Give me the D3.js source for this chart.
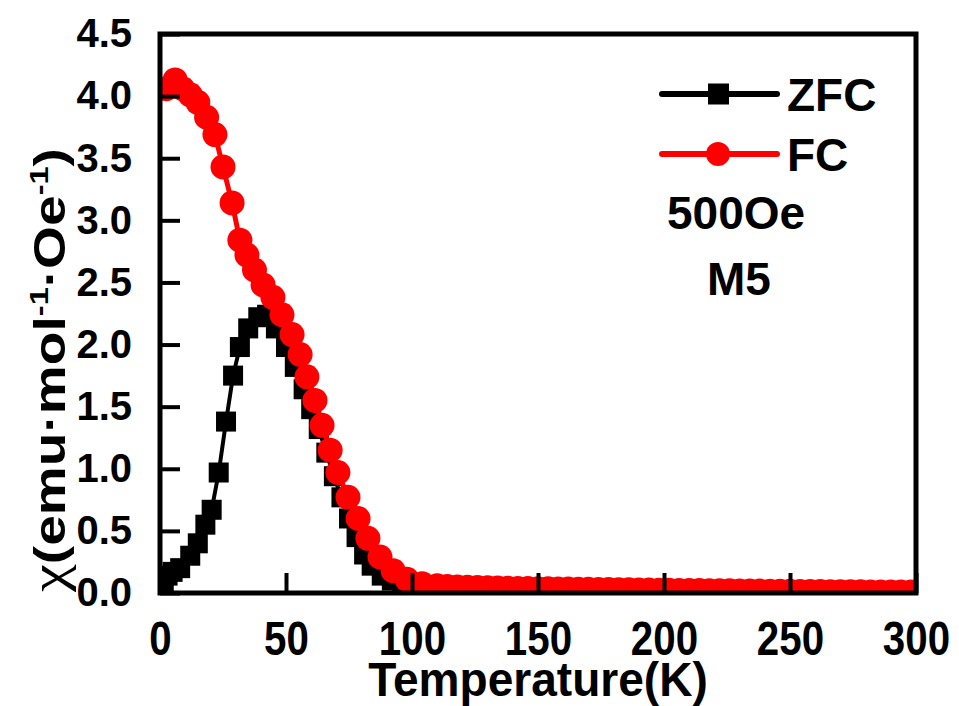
<html>
<head>
<style>
  body { margin: 0; background: #fff; }
  svg { display: block; }
  text { font-family: "Liberation Sans", Arial, Helvetica, sans-serif; font-weight: bold; fill: #000; }
</style>
<script src="https://cdn.jsdelivr.net/npm/d3@7"></script>
</head>
<body>
<svg id="chart"></svg>
<script>
// ZFC data (black squares)
let zfcT = [1.5, 3, 5, 8, 12, 15, 18, 20.5, 23.3, 26.2, 29, 31.7, 35, 39, 42.5, 46, 50, 53.5, 57, 60, 63, 66, 69, 72, 75, 78, 81, 84, 88, 92, 96, 100,
  106, 112, 120, 130, 140, 150, 160, 170, 180, 190, 200, 210, 220, 230, 240, 250, 260, 270, 280, 290, 298]
let zfcChi = [0.08, 0.14, 0.17, 0.2, 0.3, 0.4, 0.55, 0.67, 0.97, 1.38, 1.75, 1.98, 2.13, 2.22, 2.24, 2.13, 1.98, 1.82, 1.64, 1.48, 1.32, 1.13, 0.94, 0.77, 0.6, 0.45, 0.31, 0.22, 0.14, 0.1, 0.08, 0.06,
  0.05, 0.045, 0.04, 0.037, 0.034, 0.032, 0.03, 0.028, 0.026, 0.024, 0.022, 0.02, 0.018, 0.016, 0.014, 0.013, 0.012, 0.011, 0.01, 0.009, 0.008]

// FC data (red circles)
let fcT = [2.5, 6, 9, 12, 15, 18.5, 21.8, 25, 28.6, 31.7, 34.5, 37.5, 40.9, 44.8, 48.4, 52.4, 55.6, 58.3, 61.5, 64.3, 67.5, 70.6, 74.6, 78.6, 82.5, 87.3, 92.5, 98, 104, 110,
  114, 118, 122, 126, 130, 134, 138, 142, 146, 150, 154, 158, 162, 166, 170, 174, 178, 182, 186, 190, 194, 198, 202, 206, 210, 214, 218, 222, 226, 230,
  234, 238, 242, 246, 250, 254, 258, 262, 266, 270, 274, 278, 282, 286, 290, 294, 298]
let fcChi = [4.06, 4.13, 4.06, 4.01, 3.95, 3.83, 3.69, 3.43, 3.14, 2.84, 2.72, 2.6, 2.48, 2.38, 2.24, 2.08, 1.92, 1.74, 1.55, 1.35, 1.15, 0.97, 0.77, 0.6, 0.44, 0.29, 0.18, 0.11, 0.075, 0.058,
  0.052, 0.049, 0.046, 0.044, 0.042, 0.04, 0.039, 0.037, 0.036, 0.035, 0.034, 0.033, 0.032, 0.031, 0.03, 0.029, 0.028, 0.027, 0.026, 0.025, 0.024, 0.023, 0.022, 0.021, 0.021, 0.02, 0.019, 0.018, 0.018, 0.017,
  0.016, 0.016, 0.015, 0.014, 0.014, 0.013, 0.012, 0.012, 0.011, 0.011, 0.01, 0.01, 0.009, 0.009, 0.008, 0.008, 0.008]

let xTicks = [0, 50, 100, 150, 200, 250, 300]
let yTicks = [0, 0.5, 1, 1.5, 2, 2.5, 3, 3.5, 4, 4.5]

let width = 959, height = 706
let margin = { top: 34, bottom: 113, left: 160, right: 43 }
let bodyWidth = width - margin.left - margin.right
let bodyHeight = height - margin.top - margin.bottom

let svg = d3.select("#chart").attr("width", width).attr("height", height)

let xScale = d3.scaleLinear().domain([0, 300]).range([margin.left, margin.left + bodyWidth])
let yScale = d3.scaleLinear().domain([0, 4.5]).range([margin.top + bodyHeight, margin.top])

svg.append("clipPath").attr("id", "plotClip")
  .append("rect")
  .attr("x", margin.left).attr("y", margin.top)
  .attr("width", bodyWidth).attr("height", bodyHeight)

let plot = svg.append("g").attr("clip-path", "url(#plotClip)")

let zfc = zfcT.map((t, i) => ({ t: t, v: zfcChi[i] }))
let fc = fcT.map((t, i) => ({ t: t, v: fcChi[i] }))

let line = d3.line().x(d => xScale(d.t)).y(d => yScale(d.v))

// ZFC
plot.append("path").datum(zfc)
  .attr("d", line).attr("fill", "none").attr("stroke", "#000").attr("stroke-width", 4)
plot.selectAll(".sq").data(zfc).enter().append("rect")
  .attr("x", d => xScale(d.t) - 10).attr("y", d => yScale(d.v) - 10)
  .attr("width", 20).attr("height", 20).attr("fill", "#000")

// FC
plot.append("path").datum(fc)
  .attr("d", line).attr("fill", "none").attr("stroke", "#ff0000").attr("stroke-width", 5)
plot.selectAll(".dot").data(fc).enter().append("circle")
  .attr("cx", d => xScale(d.t)).attr("cy", d => yScale(d.v))
  .attr("r", 12.5).attr("fill", "#ff0000")

// axes
let axisX = d3.axisBottom(xScale).tickValues(xTicks).tickSize(-20).tickSizeOuter(0).tickPadding(28)
let gx = svg.append("g").attr("transform", `translate(0,${margin.top + bodyHeight})`).call(axisX)
gx.select(".domain").remove()
gx.selectAll("line").attr("stroke", "#000").attr("stroke-width", 4)
gx.selectAll("text").style("font-size", "48px").attr("transform", "scale(0.84,1)")

let axisY = d3.axisLeft(yScale).tickValues(yTicks).tickSize(-20).tickSizeOuter(0).tickPadding(28).tickFormat(d3.format(".1f"))
let gy = svg.append("g").attr("transform", `translate(${margin.left},0)`).call(axisY)
gy.select(".domain").remove()
gy.selectAll("line").attr("stroke", "#000").attr("stroke-width", 4)
gy.selectAll("text").style("font-size", "40px")

// frame
svg.append("rect")
  .attr("x", margin.left).attr("y", margin.top)
  .attr("width", bodyWidth).attr("height", bodyHeight)
  .attr("fill", "none").attr("stroke", "#000").attr("stroke-width", 5)

// axis titles
svg.append("text")
  .attr("text-anchor", "middle")
  .attr("transform", `translate(${margin.left + bodyWidth / 2},696) scale(0.94,1)`)
  .style("font-size", "49px")
  .text("Temperature(K)")

let yt = svg.append("text")
  .attr("text-anchor", "middle")
  .style("font-size", "44px")
yt.append("tspan").style("font-family", "'Liberation Serif', 'DejaVu Serif', serif").style("font-weight", "normal").style("font-size", "50px").text("χ")
yt.append("tspan").text("(emu·mol")
yt.append("tspan").attr("dy", -17).style("font-size", "26px").text("-1")
yt.append("tspan").attr("dy", 17).text("·Oe")
yt.append("tspan").attr("dy", -17).style("font-size", "26px").text("-1")
yt.append("tspan").attr("dy", 17).text(")")
let len = yt.node().getComputedTextLength()
let sx = 444 / len
yt.attr("transform", `translate(65,370) rotate(-90) scale(${sx},1)`)

// legend
let legend = [
  { name: "ZFC", color: "#000", y: 94, shape: "square" },
  { name: "FC", color: "#ff0000", y: 154, shape: "circle" }
]
legend.forEach(d => {
  svg.append("line").attr("x1", 662).attr("x2", 777).attr("y1", d.y).attr("y2", d.y)
    .attr("stroke", d.color).attr("stroke-width", 6).attr("stroke-linecap", "round")
  if (d.shape == "square") {
    svg.append("rect").attr("x", 708).attr("y", d.y - 10.5).attr("width", 21).attr("height", 21).attr("fill", d.color)
  } else {
    svg.append("circle").attr("cx", 718).attr("cy", d.y).attr("r", 12).attr("fill", d.color)
  }
  svg.append("text").attr("x", 787).attr("y", d.y + 17).style("font-size", "46px").text(d.name)
})

svg.append("text").attr("x", 667).attr("y", 229).style("font-size", "46px").text("500Oe")
svg.append("text").attr("x", 707).attr("y", 295).style("font-size", "46px").text("M5")
</script>
</body>
</html>
